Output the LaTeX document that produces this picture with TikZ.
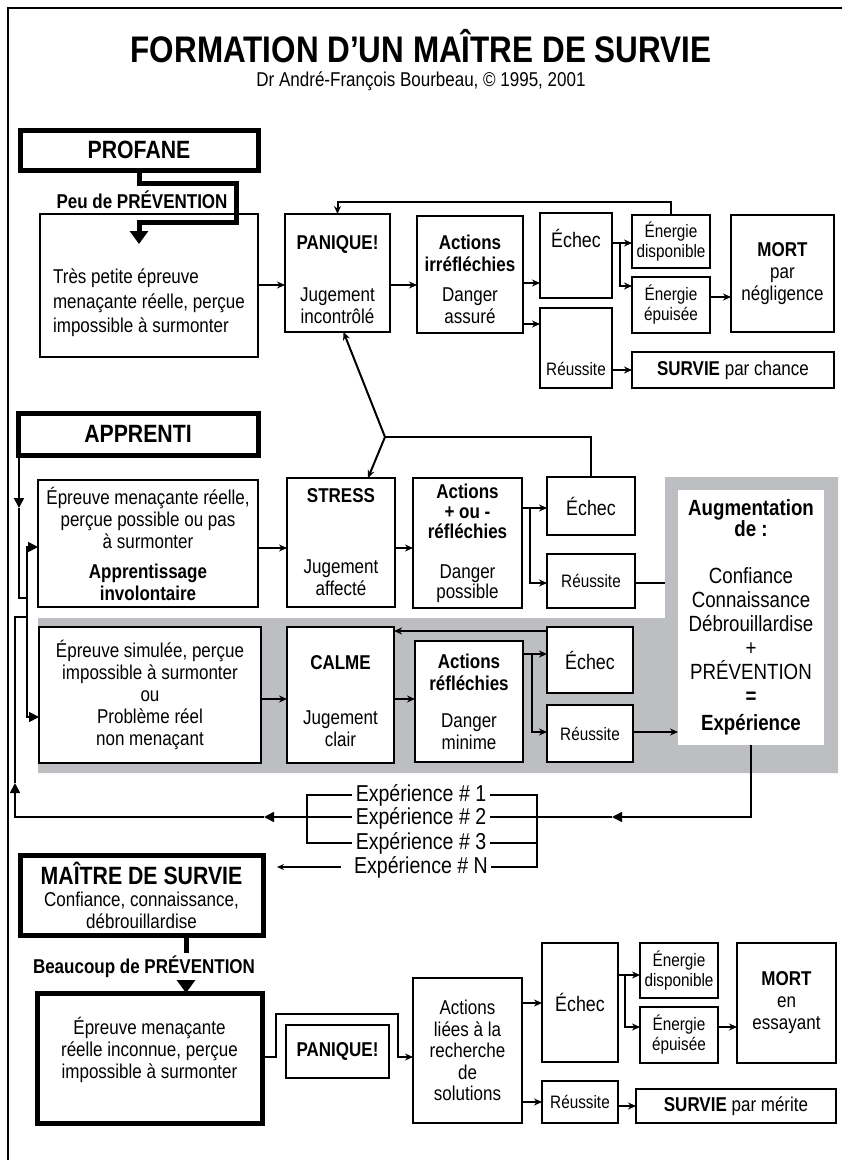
\documentclass[tikz,border=0pt]{standalone}
\usepackage{fontspec}
\setmainfont{Liberation Sans}[FakeStretch=0.85]
\usetikzlibrary{arrows.meta}
\newcommand{\fsz}[2]{\fontsize{#1}{#2}\selectfont}
\newcommand{\pushup}[1]{\rule[-#1]{0pt}{#1}}
\newcommand{\pushdown}[1]{\rule{0pt}{#1}}
\definecolor{zone}{RGB}{189,190,193}

\begin{document}
\begin{tikzpicture}[x=1pt,y=-1pt,
	box/.style={draw, fill=white, line width=2.2pt, inner sep=2pt, outer sep=0pt, align=center, font=\fsz{20}{22}},
	heavybox/.style={box, line width=5pt},
	small/.style={font=\fsz{18}{20}},
	conn/.style={line width=2pt},
	arr/.style={conn, -{Stealth[length=8pt,width=7pt]}},
	bigarr/.style={line width=1.6pt, -{Triangle[length=10pt,width=10pt]}},
	fat/.style={line width=5pt},
	fatarr/.style={fat, -{Triangle[length=13pt,width=18pt]}}]
	
	\useasboundingbox (0,0) rectangle (842,1160);
	\draw[line width=1.5pt] (842,8) -- (8,8) -- (8,1160);
	\fill[zone] (38,618) -- (665,618) -- (665,477) -- (838,477) -- (838,773) -- (38,773) -- cycle;
	
	\node[inner sep=0pt, font={\fsz{37}{40}\bfseries}] (titre) at (421,46) {FORMATION D’UN MAÎTRE DE SURVIE};
	\node[inner sep=0pt, font=\fsz{20}{22}] (auteur) at (421,81) {Dr André-François Bourbeau, © 1995, 2001};
	
	% profane
	\node[heavybox, font={\fsz{25}{27}\bfseries}, minimum width=238, minimum height=40] (profane) at (139,150) {PROFANE};
	\node[font={\fsz{20}{22}\bfseries}] (peu) at (142,200) {Peu de PRÉVENTION};
	\node[box, align=left, font=\fsz{20}{24.5}, minimum width=218, minimum height=143] (a1) at (149,285.5) {\pushdown{50pt}Très petite épreuve\\menaçante réelle, perçue\\impossible à surmonter};
	\node[box, minimum width=105, minimum height=118] (pan1) at (337.5,273) {\pushdown{28pt}\textbf{PANIQUE!}\\[30pt]Jugement\\incontrôlé};
	\node[box, minimum width=106, minimum height=117] (act1) at (470,274.5) {\pushdown{25pt}\textbf{Actions}\\\textbf{irréfléchies}\\[8pt]Danger\\assuré};
	\node[box, font=\fsz{21}{23}, minimum width=72, minimum height=85] (ech1) at (576,255.5) {Échec\pushup{34pt}};
	\node[box, small, minimum width=72, minimum height=80] (reu1) at (576,348) {\pushdown{55pt}Réussite};
	\node[box, small, minimum width=78, minimum height=53] (dis1) at (671,241.5) {Énergie\\disponible};
	\node[box, small, minimum width=78, minimum height=56] (epu1) at (671,305) {Énergie\\épuisée};
	\node[box, minimum width=103, minimum height=117] (mort1) at (782.5,273.5) {\textbf{MORT}\\par\\négligence};
	\node[box, minimum width=202, minimum height=36] (surv1) at (733,370) {\textbf{SURVIE} par chance};
	
	\coordinate (pv) at (139,244);
	\draw[fatarr] (profane.south) -- ++(0,13) -| (236,222) -| (pv);
	\draw[arr] (a1.east |- 0,285) -- (pan1.west |- 0,285);
	\draw[arr] (pan1.east |- 0,285) -- (act1.west |- 0,285);
	\draw[arr] (act1.east |- 0,283) -- (ech1.west |- 0,283);
	\draw[arr] (act1.east |- 0,324) -- (reu1.west |- 0,324);
	\draw[arr] (ech1.east |- 0,243) -- (dis1.west |- 0,243);
	\draw[arr] (620,243) |- (epu1.west |- 0,286);
	\draw[arr] (epu1.east |- 0,297) -- (mort1.west |- 0,297);
	\draw[arr] (reu1.east |- 0,370) -- (surv1.west |- 0,370);
	\draw[arr] (dis1.north) |- ([yshift=12pt]pan1.north) -- (pan1.north);
	
	% apprenti
	\node[heavybox, font={\fsz{25}{27}\bfseries}, minimum width=240, minimum height=42] (apprenti) at (138,434) {APPRENTI};
	\node[box, minimum width=220, minimum height=127] (a2) at (148,543.5) {Épreuve menaçante réelle,\\perçue possible ou pas\\à surmonter\\[8pt]\textbf{Apprentissage}\\\textbf{involontaire}};
	\node[box, minimum width=108, minimum height=129] (stress) at (341,542.5) {\textbf{STRESS}\\[49pt]Jugement\\affecté};
	\node[box, font=\fsz{20}{20}, minimum width=109, minimum height=130] (act2) at (467.5,543) {\textbf{Actions}\\\textbf{+ ou -}\\\textbf{réfléchies}\\[20pt]Danger\\possible};
	\node[box, font=\fsz{21}{23}, minimum width=88, minimum height=58] (ech2) at (591,506) {Échec};
	\node[box, small, minimum width=88, minimum height=54] (reu2) at (591,581) {Réussite};
	
	\coordinate (fk) at (385,437);
	\draw[conn] (ech2.north) |- (fk);
	\draw[arr] (fk) -- ([xshift=6pt]pan1.south);
	\draw[arr] (fk) -- ([xshift=27pt]stress.north);
	\draw[arr] (a2.east |- 0,548) -- (stress.west |- 0,548);
	\draw[arr] (stress.east |- 0,548) -- (act2.west |- 0,548);
	\draw[arr] (act2.east |- 0,508) -- (ech2.west |- 0,508);
	\draw[arr] (530,508) |- (reu2.west |- 0,583);
	\draw[conn] (reu2.east |- 0,583) -- (665,583);
	
	% calme
	\node[box, draw=none, font=\fsz{22}{24}, minimum width=146, minimum height=255] (aug) at (751,617.5) {\textbf{Augmentation}\\[-3pt]\textbf{de :}\\[23pt]Confiance\\Connaissance\\Débrouillardise\\+\\PRÉVENTION\\\textbf{=}\\[3pt]\textbf{Expérience}};
	\node[box, minimum width=222, minimum height=136] (a3) at (150,695) {Épreuve simulée, perçue\\impossible à surmonter\\ou\\Problème réel\\non menaçant};
	\node[box, minimum width=107, minimum height=136] (calme) at (340.5,695) {\pushdown{27pt}\textbf{CALME}\\[33pt]Jugement\\clair};
	\node[box, minimum width=108, minimum height=121] (act3) at (469,701.5) {\textbf{Actions}\\\textbf{réfléchies}\\[15pt]Danger\\minime};
	\node[box, font=\fsz{21}{23}, minimum width=86, minimum height=66] (ech3) at (590,660) {Échec};
	\node[box, small, minimum width=86, minimum height=57] (reu3) at (590,733.5) {Réussite};
	
	\draw[arr] (a3.east |- 0,699) -- (calme.west |- 0,699);
	\draw[arr] (calme.east |- 0,699) -- (act3.west |- 0,699);
	\draw[arr] (act3.east |- 0,654) -- (ech3.west |- 0,654);
	\draw[arr] (532,654) |- (reu3.west |- 0,732);
	\draw[arr] (reu3.east |- 0,732) -- (aug.west |- 0,732);
	\draw[arr] (ech3.west |- 0,631) -- (calme.east |- 0,631);
	
	% retour
	\coordinate (g1) at (19,508);
	\coordinate (g2) at (27,598);
	\coordinate (g3) at (27,617);
	\draw[bigarr] ([xshift=1pt]apprenti.south west) -- (g1);
	\draw[conn] (g1) |- (g2);
	\draw[bigarr] (g2) |- (a2.west |- 0,547);
	\draw[bigarr] (g2) |- (a3.west |- 0,717);
	
	\node[font=\fsz{23}{25}] (exp1) at (421,795) {Expérience \# 1};
	\node[font=\fsz{23}{25}] (exp2) at (421,818) {Expérience \# 2};
	\node[font=\fsz{23}{25}] (exp3) at (421,843) {Expérience \# 3};
	\node[font=\fsz{23}{25}] (expn) at (421,867) {Expérience \# N};
	
	\coordinate (r1) at (612,817);
	\coordinate (r2) at (264,817);
	\coordinate (r3) at (15,783);
	\coordinate (lb) at (307,817);
	\coordinate (rb) at (537,867);
	\coordinate (ea) at (277,867);
	\draw[bigarr] (aug.south) |- (r1);
	\draw[conn] (r1) -- (exp2.east |- r1);
	\draw[bigarr] (exp2.west |- r2) -- (r2);
	\draw[bigarr] (r2) -| (r3);
	\draw[conn] (r3) |- (g3);
	\draw[conn] (exp1.west) -| (lb) |- (exp3.west);
	\draw[conn] (exp1.east) -| (rb) -- (expn.east);
	\draw[conn] (exp3.east) -- (exp3.east -| rb);
	\draw[line width=1.3pt, -{Stealth[length=7pt,width=6pt]}] ([xshift=-10pt]expn.west) -- (ea);
	
	% maitre
	\node[heavybox, minimum width=243, minimum height=80] (maitre) at (141.5,895) {{\fsz{25}{27}\bfseries MAÎTRE DE SURVIE}\\Confiance, connaissance,\\débrouillardise};
	\node[font={\fsz{20}{22}\bfseries}] (beau) at (144,967) {Beaucoup de PRÉVENTION};
	\node[heavybox, minimum width=225, minimum height=130] (b1) at (149.5,1058) {Épreuve menaçante\\réelle inconnue, perçue\\impossible à surmonter\pushup{20pt}};
	\node[box, font={\fsz{20}{22}\bfseries}, minimum width=103, minimum height=53] (pan2) at (337.5,1051.5) {PANIQUE!};
	\node[box, font=\fsz{20}{21.5}, minimum width=109, minimum height=145] (act4) at (467.5,1050.5) {Actions\\liées à la\\recherche\\de\\solutions};
	\node[box, font=\fsz{21}{23}, minimum width=76, minimum height=119] (ech4) at (580,1002.5) {Échec};
	\node[box, small, minimum width=76, minimum height=42] (reu4) at (580,1102) {Réussite};
	\node[box, small, minimum width=78, minimum height=55] (dis4) at (679,970.5) {Énergie\\disponible};
	\node[box, small, minimum width=78, minimum height=56] (epu4) at (679,1035) {Énergie\\épuisée};
	\node[box, minimum width=99, minimum height=120] (mort4) at (786.5,1003) {\textbf{MORT}\\en\\essayant};
	\node[box, minimum width=200, minimum height=34] (surv4) at (736,1106) {\textbf{SURVIE} par mérite};
	
	\draw[fat] (maitre.south -| 186,0) -- (beau.north -| 186,0);
	\draw[fatarr] (beau.south -| 186,0) -- (b1.north -| 186,0);
	\draw[arr] (b1.east |- 0,1057) -| (276,1014) -| (398,1057) -- (act4.west |- 0,1057);
	\draw[arr] (act4.east |- 0,1003) -- (ech4.west |- 0,1003);
	\draw[arr] (act4.east |- 0,1102) -- (reu4.west |- 0,1102);
	\draw[arr] (ech4.east |- 0,975) -- (dis4.west |- 0,975);
	\draw[arr] (625,975) |- (epu4.west |- 0,1027);
	\draw[arr] (epu4.east |- 0,1027) -- (mort4.west |- 0,1027);
	\draw[arr] (reu4.east |- 0,1106) -- (surv4.west |- 0,1106);
\end{tikzpicture}
\end{document}
